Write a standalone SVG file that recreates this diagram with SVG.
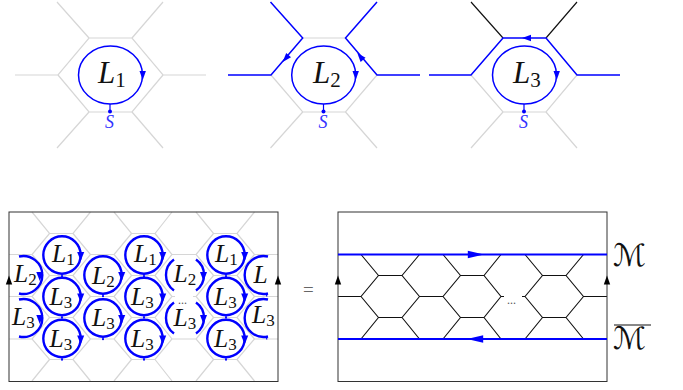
<svg xmlns="http://www.w3.org/2000/svg" width="683" height="390" viewBox="0 0 683 390">
<style>
.g{fill:none;stroke:#d6d6d6;stroke-width:1.2}
.k{fill:none;stroke:#111;stroke-width:1.15}
.b{fill:none;stroke:#00f;stroke-width:1.5}
.c{fill:none;stroke:#00f;stroke-width:2.4}
.bb{fill:none;stroke:#00f;stroke-width:1.8}
.f{stroke:#333;stroke-width:1;fill:none}
.L{font-family:"Liberation Serif",serif;font-style:italic;font-size:31px;fill:#111}
.L tspan{font-style:normal;font-size:21px}
.M{font-family:"Liberation Serif",serif;font-style:italic;font-size:25.500px;fill:#111}
.M tspan{font-style:normal;font-size:17px}
.s{font-family:"Liberation Serif",serif;font-style:italic;font-size:18px;fill:#33f}
.d{font-family:"Liberation Serif",serif;font-size:12px;fill:#555}
.e{font-family:"Liberation Serif",serif;font-size:19px;fill:#666}
.m{font-family:"DejaVu Sans",sans-serif;font-style:italic;font-size:31px;fill:#111}
</style>
<defs>
<path id="a" d="M0,0L-9,-3.200L-9,3.200Z"/>
<g id="cell"><circle r="18.7" class="c"/><use href="#a" transform="translate(18.7,6) rotate(90) scale(1,1.1)" fill="#00f"/><path d="M0,18.7V21.5" stroke="#00f" stroke-width="1.2"/><circle cy="21.3" r="1" fill="#00f"/></g>
</defs>
<g id="connectors">
<path class="g" d="M15,75H58L89,38H132L163,75H206M58,75L89,112H132L163,75M89,38L57,2M132,38L163,2M89,112L57,148M132,112L163,148"/>
<path class="g" d="M302.700,38H345.500M271,75L302.700,112H345.500L377,75M302.700,112L270.500,148M345.500,112L377,148"/>
<path class="b" d="M228,75H271L302.700,38L270.500,2M377,2L345.500,38L377,75H420"/>
<path class="g" d="M471,75L503,112H546L577,75M503,112L471,148M546,112L577,148"/>
<path class="k" d="M471,2L503,38M577,2L546,38"/>
<path class="b" d="M429,75H471L503,38H546L577,75H620"/>
<use href="#a" transform="translate(282.700,62) rotate(131)" fill="#00f"/>
<use href="#a" transform="translate(357.300,53) rotate(-130)" fill="#00f"/>
<use href="#a" transform="translate(522,38) rotate(180)" fill="#00f"/>
<path class="g" d="M32,212L49.500,233.500H73L90.500,212M114,212L131.500,233.500H155L172,212M196,212L213.500,233.500H237L254.500,212
M49.500,233.500L32,254.500L49.500,275.500H73L90.500,254.500L73,233.500M131.500,233.500L114,254.500L131.500,275.500H155L172,254.500L155,233.500M213.500,233.500L196,254.500L213.500,275.500H237L254.500,254.500L237,233.500
M9,254.500H32M90.500,254.500H114M172,254.500H196M254.500,254.500H278
M49.500,275.500L32,296.500L49.500,317.500H73L90.500,296.500L73,275.500M131.500,275.500L114,296.500L131.500,317.500H155L172,296.500L155,275.500M213.500,275.500L196,296.500L213.500,317.500H237L254.500,296.500L237,275.500
M9,296.500H32M90.500,296.500H114M172,296.500H175M193,296.500H196M254.500,296.500H278
M49.500,317.500L32,339L49.500,359.500H73L90.500,339L73,317.500M131.500,317.500L114,339L131.500,359.500H155L172,339L155,317.500M213.500,317.500L196,339L213.500,359.500H237L254.500,339L237,317.500
M9,339H32M90.500,339H114M172,339H196M254.500,339H278
M49.500,359.500L32,381M73,359.500L90.500,381M131.500,359.500L114,381M155,359.500L172,381M213.500,359.500L196,381M237,359.500L254.500,381"/>
<rect class="f" x="9" y="212" width="269" height="169.500"/>
<use href="#a" transform="translate(9,275.500) rotate(-90)" fill="#000"/>
<use href="#a" transform="translate(278,275.500) rotate(-90)" fill="#000"/>
<path class="k" d="M338,296.500H361L378.500,275.500H402L419.500,296.500H443L460.500,275.500H484L501,296.500H504M522,296.500H525L542.500,275.500H566L583.500,296.500H607
M361,254.500L378.500,275.500M402,275.500L419.500,254.500M443,254.500L460.500,275.500M484,275.500L501,254.500M525,254.500L542.500,275.500M566,275.500L583.500,254.500
M361,296.500L378.500,317.500H402L419.500,296.500M443,296.500L460.500,317.500H484L501,296.500M525,296.500L542.500,317.500H566L583.500,296.500
M361,339L378.500,317.500M402,317.500L419.500,339M443,339L460.500,317.500M484,317.500L501,339M525,339L542.500,317.500M566,317.500L583.500,339"/>
<rect class="f" x="338" y="212" width="269" height="169.500"/>
<path class="bb" d="M338,254.500H607M338,339H607"/>
<use href="#a" transform="translate(484,254.500) scale(1.8,1.2)" fill="#00f"/>
<use href="#a" transform="translate(467,339) rotate(180) scale(1.8,1.2)" fill="#00f"/>
<use href="#a" transform="translate(338,275.500) rotate(-90)" fill="#000"/>
<use href="#a" transform="translate(607,275.500) rotate(-90)" fill="#000"/>
</g>
<g id="loop-1"><ellipse cx="110.500" cy="75" rx="32" ry="29" class="b"/><use href="#a" transform="translate(142.700,80) rotate(90)" fill="#00f"/><path d="M110,104V112" stroke="#00f" stroke-width="1.2"/><circle cx="110" cy="111.500" r="2" fill="#00f"/><text class="L" x="98" y="83">L<tspan dy="4">1</tspan></text><text class="s" x="105" y="128">S</text></g>
<g id="loop-2"><ellipse cx="323.700" cy="75" rx="32" ry="29" class="b"/><use href="#a" transform="translate(355.700,80) rotate(90)" fill="#00f"/><path d="M323.500,104V112" stroke="#00f" stroke-width="1.200"/><circle cx="323.500" cy="111.500" r="2" fill="#00f"/><text class="L" x="313" y="83">L<tspan dy="4">2</tspan></text><text class="s" x="318.500" y="128">S</text></g>
<g id="loop-3"><ellipse cx="524.500" cy="75" rx="32" ry="29" class="b"/><use href="#a" transform="translate(556.700,80) rotate(90)" fill="#00f"/><path d="M524,104V112" stroke="#00f" stroke-width="1.200"/><circle cx="524" cy="111.500" r="2" fill="#00f"/><text class="L" x="513" y="83">L<tspan dy="4">3</tspan></text><text class="s" x="519" y="128">S</text></g>
<g id="lattice-loops">
<use href="#cell" x="62" y="255"/><use href="#cell" x="62" y="296.500"/><use href="#cell" x="62" y="338.500"/>
<use href="#cell" x="103" y="275"/><use href="#cell" x="103" y="318"/>
<use href="#cell" x="144" y="255"/><use href="#cell" x="144" y="296.500"/><use href="#cell" x="144" y="338.500"/>
<use href="#cell" x="226" y="255"/><use href="#cell" x="226" y="296.500"/><use href="#cell" x="226" y="338.500"/>
<path class="c" d="M19,256.500A19,19 0 1 1 19,293.500M19,299.500A19,19 0 1 1 19,336.500M174,259.500A19,19 0 0 0 174,290.500M196,259.500A19,19 0 0 1 196,290.500M174,302.500A19,19 0 0 0 174,333.500M196,302.500A19,19 0 0 1 196,333.500M268,256.500A19,19 0 1 0 268,293.500M268,299.500A19,19 0 1 0 268,336.500"/>
<use href="#a" transform="translate(39.800,281) rotate(90) scale(1,1.1)" fill="#00f"/>
<use href="#a" transform="translate(39.800,324) rotate(90) scale(1,1.1)" fill="#00f"/>
<use href="#a" transform="translate(203.500,281) rotate(90) scale(1,1.1)" fill="#00f"/>
<use href="#a" transform="translate(203.500,324) rotate(90) scale(1,1.1)" fill="#00f"/>
<path d="M266.700,293V296.500M266.700,336V339.500" stroke="#00f" stroke-width="1.200"/>
<text class="M" x="14" y="282">L<tspan dy="3">2</tspan></text>
<text class="M" x="12" y="325">L<tspan dy="3">3</tspan></text>
<text class="M" x="52" y="262">L<tspan dy="3">1</tspan></text>
<text class="M" x="49.500" y="305">L<tspan dy="3">3</tspan></text>
<text class="M" x="49.500" y="347">L<tspan dy="3">3</tspan></text>
<text class="M" x="92" y="284">L<tspan dy="3">2</tspan></text>
<text class="M" x="92" y="326">L<tspan dy="3">3</tspan></text>
<text class="M" x="134" y="262">L<tspan dy="3">1</tspan></text>
<text class="M" x="131" y="305">L<tspan dy="3">3</tspan></text>
<text class="M" x="131" y="347">L<tspan dy="3">3</tspan></text>
<text class="M" x="173.500" y="282">L<tspan dy="3">2</tspan></text>
<text class="M" x="173.500" y="326">L<tspan dy="3">3</tspan></text>
<text class="d" x="178" y="304">...</text>
<text class="M" x="215" y="262">L<tspan dy="3">1</tspan></text>
<text class="M" x="214" y="305">L<tspan dy="3">3</tspan></text>
<text class="M" x="214" y="347">L<tspan dy="3">3</tspan></text>
<text class="M" x="253.500" y="283">L</text>
<text class="M" x="252" y="323">L<tspan dy="3">3</tspan></text>
</g>
<g id="equals"><text class="e" x="303" y="296">=</text></g>
<g id="dots"><text class="d" x="507" y="304">...</text></g>
<g id="label-m"><text class="m" x="613" y="266">ℳ</text></g>
<g id="label-mbar"><text class="m" x="613" y="349">ℳ</text><path d="M614,325H651" stroke="#111" stroke-width="1"/></g>
</svg>
